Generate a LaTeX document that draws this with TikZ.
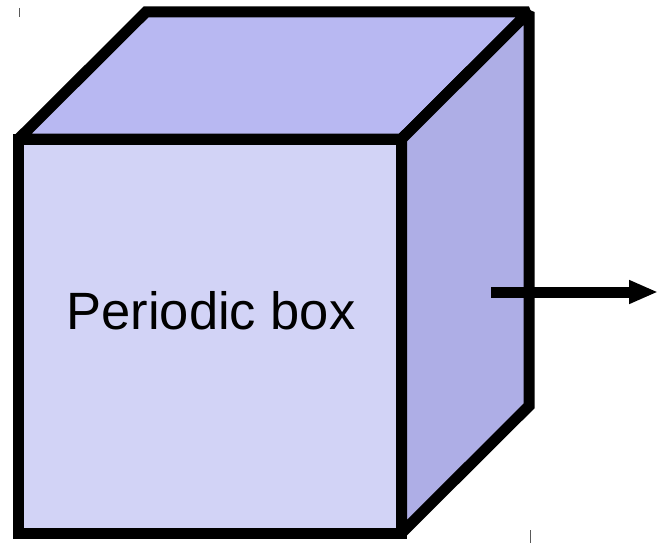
\documentclass[tikz,border=0pt]{standalone}
\usepackage{fontspec}
\setmainfont{Liberation Sans}
\usetikzlibrary{arrows.meta}
\definecolor{frontface}{HTML}{D2D3F6}
\definecolor{topface}{HTML}{B8B8F2}
\definecolor{sideface}{HTML}{AEAEE6}

\begin{document}
\begin{tikzpicture}[x=1pt, y=-1pt, line width=11pt, every node/.style={font=\fontsize{52.5}{60}\selectfont}]
  \useasboundingbox (0,0) rectangle (658,543);
  % corners of the box
  \coordinate (fa) at (18.5,139);
  \coordinate (fb) at (401.5,139);
  \coordinate (fc) at (401.5,533);
  \coordinate (fd) at (18.5,533);
  \coordinate (ba) at (146,12);
  \coordinate (bb) at (529,12);
  \coordinate (bc) at (529,406);
  % faces
  \begin{scope}[miter limit=1.5]
    \filldraw[fill=topface] (fa) -- (ba) -- (bb) -- (fb) -- cycle;
    \filldraw[fill=sideface] (fb) -- (bb) -- (bc) -- (fc) -- cycle;
    \filldraw[fill=frontface] (fa) -- (fb) -- (fc) -- (fd) -- cycle;
  \end{scope}
  % label
  \node[anchor=base] (lbl) at (211,329) {Periodic box};
  % outward arrow
  \coordinate (ain) at (491,292);
  \coordinate (aout) at (658,292);
  \draw[-{Triangle[length=29pt, width=22pt]}, line width=11pt] (ain) -- (aout);
  % crop ticks
  \draw[gray!70!black, line width=1pt] (19,8) -- (19,17);
  \draw[gray!70!black, line width=1pt] (530,530) -- (530,543);
\end{tikzpicture}
\end{document}
